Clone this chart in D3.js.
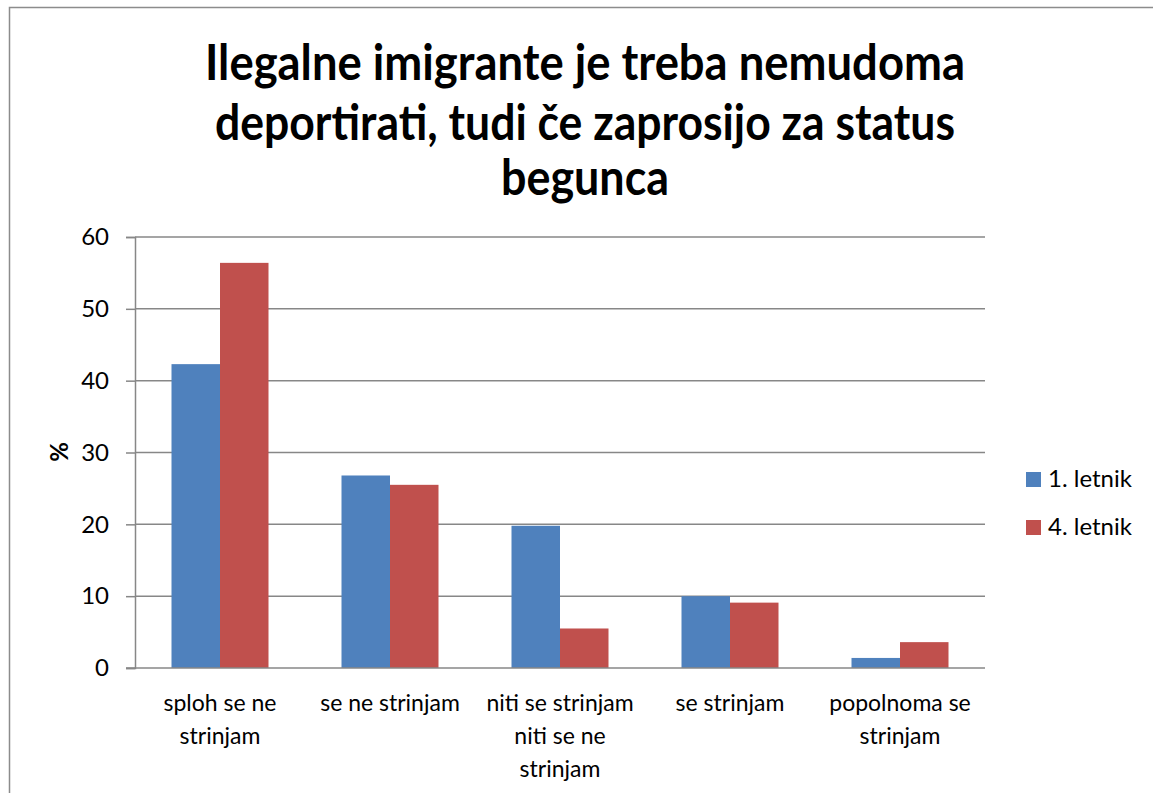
<!DOCTYPE html>
<html>
<head>
<meta charset="utf-8">
<script src="https://cdn.jsdelivr.net/npm/d3@7"></script>
<style>
  html, body { margin: 0; padding: 0; background: #fff; }
  svg { display: block; }
  text { font-family: Lato, "Open Sans", sans-serif; fill: #000; }
</style>
</head>
<body>
<svg id="chart" width="1153" height="793"></svg>
<script>
// ---- data ----
const categories = [
  "sploh se ne strinjam",
  "se ne strinjam",
  "niti se strinjam niti se ne strinjam",
  "se strinjam",
  "popolnoma se strinjam"
];
const categoryLines = [
  ["sploh se ne", "strinjam"],
  ["se ne strinjam"],
  ["niti se strinjam", "niti se ne", "strinjam"],
  ["se strinjam"],
  ["popolnoma se", "strinjam"]
];
const seriesNames = ["1. letnik", "4. letnik"];
const letnik1 = [42.3, 26.8, 19.8, 10.0, 1.4];
const letnik4 = [56.4, 25.5, 5.5, 9.1, 3.6];
const yTicks = [0, 10, 20, 30, 40, 50, 60];
const titleLines = [
  "Ilegalne imigrante je treba nemudoma",
  "deportirati, tudi če zaprosijo za status",
  "begunca"
];
const yLabel = "%";
const colors = ["#4F81BD", "#C0504D"];

// ---- layout ----
const svg = d3.select("#chart");
const plot = { left: 135, right: 985, top: 237, bottom: 668 };

// outer border
svg.append("rect")
  .attr("x", 9.5).attr("y", 7.5)
  .attr("width", 1160).attr("height", 800)
  .attr("fill", "#fff").attr("stroke", "#8c8c8c").attr("stroke-width", 1.5);

// title
const titleWidths = [760, 740, 168];
const titleBase = [80, 140, 195];
const title = svg.append("g");
titleLines.forEach((t, i) => {
  title.append("text")
    .attr("x", 585).attr("y", titleBase[i])
    .attr("text-anchor", "middle")
    .style("font-size", "49px").style("font-weight", "bold")
    .attr("textLength", titleWidths[i])
    .attr("lengthAdjust", "spacingAndGlyphs")
    .text(t);
});

// scales
const x0 = d3.scaleBand().domain(categories).range([plot.left, plot.right]).padding(0);
const x1 = d3.scaleBand().domain(seriesNames).range([0, 97]);
const y = d3.scaleLinear().domain([0, 60]).range([plot.bottom, plot.top]);

// gridlines
svg.append("g").selectAll("line").data(yTicks.filter(d => d > 0)).join("line")
  .attr("x1", plot.left).attr("x2", plot.right)
  .attr("y1", d => y(d)).attr("y2", d => y(d))
  .attr("stroke", "#878787").attr("stroke-width", 1.5);

// y axis
const yAxis = svg.append("g")
  .attr("transform", `translate(${plot.left},0)`)
  .call(d3.axisLeft(y).tickValues(yTicks).tickSize(9).tickPadding(17));
yAxis.select(".domain").attr("stroke", "#878787").attr("stroke-width", 1.5);
yAxis.selectAll(".tick line").attr("stroke", "#878787").attr("stroke-width", 1.5);
yAxis.selectAll(".tick text")
  .style("font-family", "Lato, sans-serif").style("font-size", "24px").attr("fill", "#000");

// bars
const data = categories.map((c, i) => ({ cat: c, vals: [letnik1[i], letnik4[i]] }));
const groups = svg.append("g").selectAll("g").data(data).join("g")
  .attr("transform", d => `translate(${x0(d.cat) + x0.bandwidth() / 2 - 48.5},0)`);
groups.selectAll("rect")
  .data(d => d.vals.map((v, j) => ({ name: seriesNames[j], v, j })))
  .join("rect")
  .attr("x", d => x1(d.name))
  .attr("width", x1.bandwidth())
  .attr("y", d => y(d.v))
  .attr("height", d => y(0) - y(d.v))
  .attr("fill", d => colors[d.j]);

// x axis baseline
svg.append("line")
  .attr("x1", plot.left - 9).attr("x2", plot.right)
  .attr("y1", y(0)).attr("y2", y(0))
  .attr("stroke", "#878787").attr("stroke-width", 1.5);

// x labels
const xl = svg.append("g");
categories.forEach((c, i) => {
  const cx = x0(c) + x0.bandwidth() / 2;
  categoryLines[i].forEach((line, k) => {
    xl.append("text")
      .attr("x", cx).attr("y", 711 + k * 33)
      .attr("text-anchor", "middle")
      .style("font-size", "23px")
      .text(line);
  });
});

// y label
svg.append("text")
  .attr("transform", "translate(68,452) rotate(-90)")
  .attr("text-anchor", "middle")
  .style("font-size", "24px").style("font-weight", "bold")
  .text(yLabel);

// legend
const lg = svg.append("g");
seriesNames.forEach((n, i) => {
  const yy = 472 + i * 48;
  lg.append("rect").attr("x", 1026).attr("y", yy).attr("width", 15).attr("height", 15).attr("fill", colors[i]);
  lg.append("text").attr("x", 1048).attr("y", yy + 15).style("font-size", "24px").text(n);
});
</script>
</body>
</html>
